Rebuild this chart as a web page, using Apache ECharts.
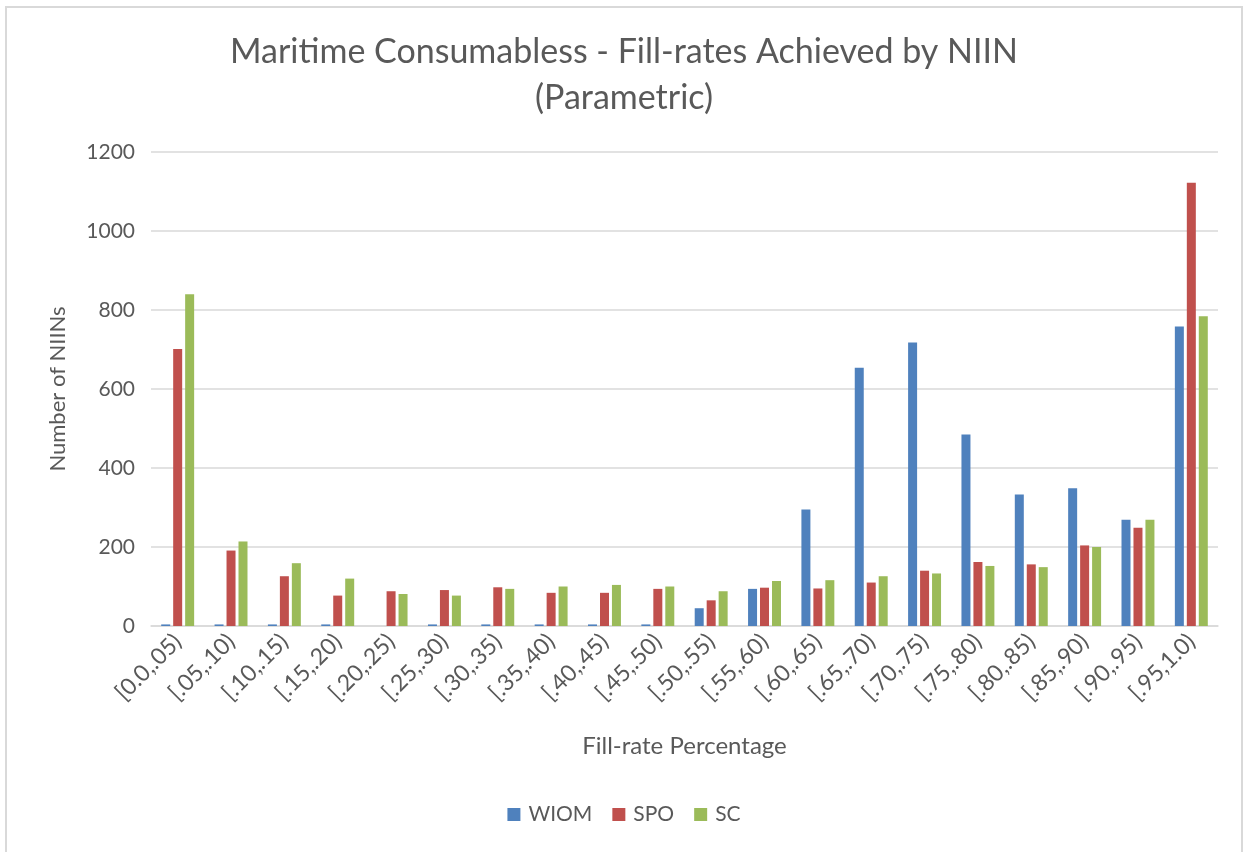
<!DOCTYPE html>
<html>
<head>
<meta charset="utf-8">
<script src="https://cdn.jsdelivr.net/npm/echarts@6/dist/echarts.min.js"></script>
<style>
  html, body { margin: 0; padding: 0; background: #fff; }
  #frame {
    position: absolute; left: 5px; top: 6px; width: 1238px; height: 860px;
    border: 2px solid #d9d9d9; box-sizing: border-box;
  }
  #chart { position: absolute; left: 0; top: 0; width: 1248px; height: 852px; }
</style>
</head>
<body>
<div id="frame"></div>
<div id="chart"></div>
<script>
// fill-rate buckets
var categories = ['[0.0,.05)', '[.05,.10)', '[.10,.15)', '[.15,.20)', '[.20,.25)',
  '[.25,.30)', '[.30,.35)', '[.35,.40)', '[.40,.45)', '[.45,.50)', '[.50,.55)',
  '[.55,.60)', '[.60,.65)', '[.65,.70)', '[.70,.75)', '[.75,.80)', '[.80,.85)',
  '[.85,.90)', '[.90,.95)', '[.95,1.0)'];

var wiom = [4, 4, 4, 4, 0, 4, 4, 4, 4, 4, 45, 94, 295, 654, 718, 485, 333, 349, 269, 758];
var spo  = [701, 191, 126, 77, 88, 91, 98, 84, 84, 94, 65, 97, 95, 110, 140, 162, 156, 204, 249, 1122];
var sc   = [840, 214, 159, 120, 81, 77, 94, 100, 104, 100, 88, 114, 116, 126, 133, 152, 149, 200, 269, 784];

var textColor = '#595959';
var font = 'Lato';

var chart = echarts.init(document.getElementById('chart'));

function barSeries(name, data, color) {
  return {
    name: name,
    type: 'bar',
    data: data,
    barWidth: 9,
    barGap: '33%',
    itemStyle: { color: color },
    emphasis: { disabled: true }
  };
}

chart.setOption({
  animation: false,
  textStyle: { fontFamily: font, color: textColor },
  title: {
    text: 'Maritime Consumabless - Fill-rates Achieved by NIIN\n(Parametric)',
    left: 'center',
    top: 24,
    textStyle: {
      fontFamily: font, fontSize: 34, fontWeight: 'normal',
      color: textColor, lineHeight: 46
    }
  },
  legend: {
    bottom: 22,
    left: 'center',
    itemWidth: 13,
    itemHeight: 13,
    itemGap: 20,
    icon: 'rect',
    textStyle: { fontFamily: font, fontSize: 21, color: textColor, padding: [0, 0, 0, 3] },
    data: ['WIOM', 'SPO', 'SC']
  },
  grid: { left: 151, right: 30, top: 152, bottom: 226 },
  xAxis: {
    type: 'category',
    data: categories,
    name: 'Fill-rate Percentage',
    nameLocation: 'middle',
    nameGap: 108,
    nameTextStyle: { fontFamily: font, fontSize: 24, color: textColor },
    axisLine: { lineStyle: { color: '#d9d9d9', width: 1.5 } },
    axisTick: { show: false },
    axisLabel: {
      rotate: 45, interval: 0, fontSize: 23, color: textColor,
      fontFamily: font, margin: 12
    }
  },
  yAxis: {
    type: 'value',
    min: 0,
    max: 1200,
    interval: 200,
    name: 'Number of NIINs',
    nameLocation: 'middle',
    nameGap: 82,
    nameTextStyle: { fontFamily: font, fontSize: 22, color: textColor },
    axisLine: { show: false },
    axisTick: { show: false },
    axisLabel: {
      fontSize: 21, color: textColor, fontFamily: font, margin: 16,
      formatter: function (v) { return String(v); }
    },
    splitLine: { lineStyle: { color: '#d9d9d9', width: 1.5 } }
  },
  series: [
    barSeries('WIOM', wiom, '#4f81bd'),
    barSeries('SPO', spo, '#c0504d'),
    barSeries('SC', sc, '#9bbb59')
  ]
});
</script>
</body>
</html>
